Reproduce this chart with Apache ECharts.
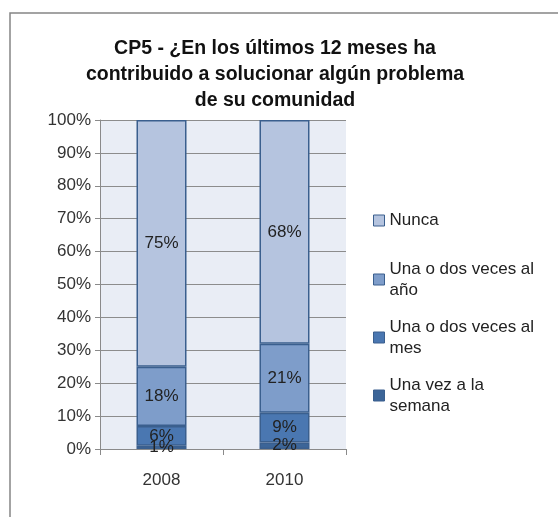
<!DOCTYPE html>
<html>
<head>
<meta charset="utf-8">
<script src="https://cdn.jsdelivr.net/npm/echarts@6/dist/echarts.min.js"></script>
<style>
    html, body { margin: 0; padding: 0; background: #ffffff; }
    #chart { width: 558px; height: 517px; }
</style>
</head>
<body>
<div id="chart"></div>
<script>
    var years = ['2008', '2010'];
    var seriesNames = ['Una vez a la semana', 'Una o dos veces al mes', 'Una o dos veces al año', 'Nunca'];
    // valores en %, de abajo hacia arriba
    var semana = [1, 2];
    var mes = [6, 9];
    var anio = [18, 21];
    var nunca = [75, 68];
    var yTicks = [0, 10, 20, 30, 40, 50, 60, 70, 80, 90, 100];

    var colors = ['#3c6598', '#4a77b1', '#7e9dca', '#b5c4df'];
    var font = 'Liberation Sans';

    var myChart = echarts.init(document.getElementById('chart'));

    function bar(name, data, color) {
        return {
            name: name,
            type: 'bar',
            stack: 'total',
            barWidth: 50,
            data: data,
            itemStyle: {
                color: color,
                borderColor: '#3a5f8e',
                borderWidth: 1.5
            },
            label: {
                show: true,
                position: 'inside',
                formatter: '{c}%',
                color: '#222',
                fontSize: 17,
                fontFamily: font
            }
        };
    }

    // una leyenda por serie para poder colocar cada una
    function leg(name, top, twoLines) {
        return {
            data: [name],
            left: 368,
            top: top,
            orient: 'vertical',
            icon: 'rect',
            itemWidth: 11,
            itemHeight: 11,
            itemGap: 0,
            selectedMode: false,
            itemStyle: { borderColor: '#3a5f8e', borderWidth: 1 },
            formatter: function (n) {
                if (n === 'Una o dos veces al año') return 'Una o dos veces al\naño';
                if (n === 'Una o dos veces al mes') return 'Una o dos veces al\nmes';
                if (n === 'Una vez a la semana') return 'Una vez a la\nsemana';
                return n;
            },
            textStyle: {
                fontSize: 17,
                fontFamily: font,
                color: '#222',
                lineHeight: 21,
                padding: twoLines ? [21, 0, 0, 0] : 0
            }
        };
    }

    myChart.setOption({
        animation: false,
        title: {
            text: 'CP5 - ¿En los últimos 12 meses ha\ncontribuido a solucionar algún problema\nde su comunidad',
            left: 270,
            top: 31,
            textAlign: 'center',
            textStyle: {
                fontSize: 19.5,
                fontWeight: 'bold',
                fontFamily: font,
                color: '#111',
                lineHeight: 26
            }
        },
        graphic: [{
            type: 'rect',
            shape: { x: 10, y: 13, width: 700, height: 700 },
            style: { fill: 'none', stroke: '#858585', lineWidth: 1.5 }
        }],
        legend: [
            leg('Nunca', 205, false),
            leg('Una o dos veces al año', 243, true),
            leg('Una o dos veces al mes', 301, true),
            leg('Una vez a la semana', 359, true)
        ],
        grid: {
            left: 100,
            top: 120,
            width: 246,
            height: 329,
            show: true,
            backgroundColor: '#e9edf5',
            borderWidth: 0
        },
        xAxis: {
            type: 'category',
            data: years,
            axisLine: { lineStyle: { color: '#8a8a8a', width: 1 } },
            axisTick: { show: true, length: 6, lineStyle: { color: '#8a8a8a' } },
            axisLabel: { color: '#333', fontSize: 17, fontFamily: font, margin: 23 }
        },
        yAxis: {
            type: 'value',
            min: yTicks[0],
            max: yTicks[yTicks.length - 1],
            interval: 10,
            axisLine: { show: true, lineStyle: { color: '#8a8a8a', width: 1 } },
            axisTick: { show: true, length: 5, lineStyle: { color: '#8a8a8a' } },
            axisLabel: { color: '#333', fontSize: 17, fontFamily: font, margin: 9, formatter: '{value}%' },
            splitLine: { lineStyle: { color: '#8c8c8c', width: 1 } }
        },
        series: [
            bar(seriesNames[0], semana, colors[0]),
            bar(seriesNames[1], mes, colors[1]),
            bar(seriesNames[2], anio, colors[2]),
            bar(seriesNames[3], nunca, colors[3])
        ]
    });
</script>
</body>
</html>
